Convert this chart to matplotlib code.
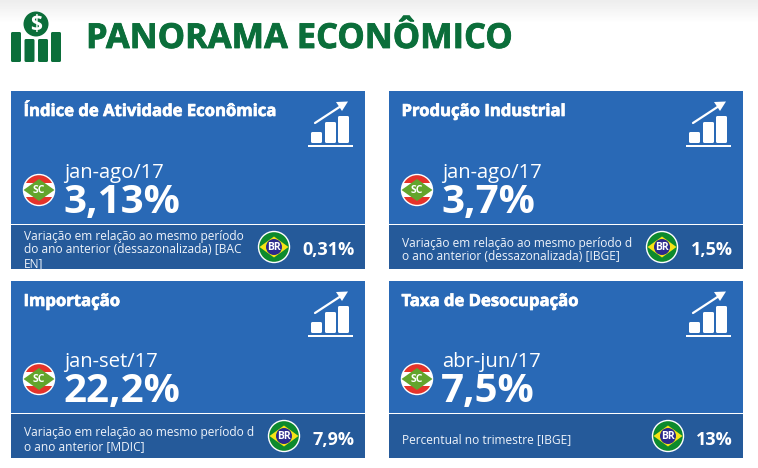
"""Panorama economico: four indicator cards, SC against BR."""
import numpy as np
import matplotlib
matplotlib.use("Agg")
import matplotlib.pyplot as plt
import matplotlib.patheffects as pe
from matplotlib.patches import Circle, FancyBboxPatch, Polygon, Rectangle

plt.rcParams['font.family'] = ['Open Sans', 'DejaVu Sans']

# chart content
header = "PANORAMA ECONÔMICO"
titles = ["Índice de Atividade Econômica", "Produção Industrial",
          "Importação", "Taxa de Desocupação"]
periods = ["jan-ago/17", "jan-ago/17", "jan-set/17", "abr-jun/17"]
sc_values = ["3,13%", "3,7%", "22,2%", "7,5%"]
br_values = ["0,31%", "1,5%", "7,9%", "13%"]
notes = [
    ["Variação em relação ao mesmo período", "do ano anterior (dessazonalizada) [BAC", "EN]"],
    ["Variação em relação ao mesmo período d", "o ano anterior (dessazonalizada) [IBGE]"],
    ["Variação em relação ao mesmo período d", "o ano anterior [MDIC]"],
    ["Percentual no trimestre [IBGE]"],
]

# layout, in pixels
card_x = [11, 389, 11, 389]
card_y = [91, 91, 281, 281]
body_h = [133, 133, 132, 132]
band_h = [44, 44, 44, 44]
br_badge_x = [263, 273, 273, 279]
note_baselines = [[149, 162, 176], [156, 169], [155, 169], [162]]

GREEN = "#0b6e3a"
CARD = "#2969b6"
BAND = "#255a9a"
NARROW = ['Liberation Sans Narrow', 'Open Sans']


def rounded(ax, x, y, w, h, color, r=1.5):
    ax.add_patch(FancyBboxPatch((x + r, y + r), w - 2 * r, h - 2 * r,
                                boxstyle=f"round,pad={r},rounding_size={r}",
                                fc=color, ec="none"))


def draw_logo(ax):
    for x, top in zip([11, 24.5, 38, 51], [32, 39, 39, 32]):
        rounded(ax, x, top, 10, 62 - top, GREEN)
    ax.add_patch(Circle((36, 24), 12.5, fc=GREEN, ec="none"))
    ax.text(36, 24.5, "$", color="white", fontsize=15, fontweight="bold",
            ha="center", va="center")


def draw_trend_icon(ax, x0, y0):
    ax.add_patch(Rectangle((x0 + 296.5, y0 + 53.5), 45, 2.2, fc="white", ec="none"))
    for x, top in zip([300, 314, 327], [41, 31, 25]):
        rounded(ax, x0 + x, y0 + top, 11, 52 - top, "white")
    ax.plot([x0 + 304, x0 + 330], [y0 + 32, y0 + 15], color="white", lw=1.6,
            solid_capstyle="round")
    ax.add_patch(Polygon([(x0 + 337, y0 + 10.5), (x0 + 325, y0 + 11), (x0 + 331, y0 + 20)],
                         fc="white", ec="none"))


def draw_sc_badge(ax, cx, cy):
    outer = Circle((cx, cy), 15.5, fc="#e5332a", ec="white", lw=1)
    ax.add_patch(outer)
    band = Rectangle((cx - 16, cy - 7), 32, 14, fc="white", ec="none")
    ax.add_patch(band)
    band.set_clip_path(outer)
    diamond = Polygon([(cx - 15.5, cy), (cx, cy - 11), (cx + 15.5, cy), (cx, cy + 11)],
                      fc="#62a52c", ec="none")
    ax.add_patch(diamond)
    diamond.set_clip_path(outer)
    ax.text(cx, cy + 0.3, "SC", color="white", fontsize=7.5, fontweight="bold",
            ha="center", va="center", family=NARROW)


def draw_br_badge(ax, cx, cy):
    ax.add_patch(Circle((cx, cy), 15.5, fc="#0d8a2d", ec="white", lw=1))
    ax.add_patch(Polygon([(cx - 14.5, cy), (cx, cy - 10.5), (cx + 14.5, cy), (cx, cy + 10.5)],
                         fc="#f6e316", ec="none"))
    ax.add_patch(Circle((cx, cy), 8, fc="#2b2a8c", ec="none"))
    ax.text(cx, cy + 0.3, "BR", color="white", fontsize=7.5, fontweight="bold",
            ha="center", va="center", family=NARROW)


def draw_card(ax, i):
    x0, y0, h = card_x[i], card_y[i], body_h[i]
    ax.add_patch(Rectangle((x0, y0), 354, h, fc=CARD, ec="none"))
    ax.add_patch(Rectangle((x0, y0 + h + 1), 354, band_h[i], fc=BAND, ec="none"))

    ax.text(x0 + 12.5, y0 + 25, titles[i], color="white", fontsize=12,
            fontweight="bold", va="baseline",
            path_effects=[pe.withStroke(linewidth=0.5, foreground="white")])
    draw_trend_icon(ax, x0, y0)
    draw_sc_badge(ax, x0 + 28, y0 + h - 34)
    ax.text(x0 + 53, y0 + h - 46, periods[i], color="white", fontsize=14.6, va="baseline")
    ax.text(x0 + 52, y0 + h - 11, sc_values[i], color="white", fontsize=29,
            fontweight="bold", va="baseline")

    for line, base in zip(notes[i], note_baselines[i]):
        ax.text(x0 + 12.5, y0 + base, line, color="#eef3fa", fontsize=8.65, va="baseline")
    draw_br_badge(ax, x0 + br_badge_x[i], y0 + h + 23)
    ax.text(x0 + 343.5, y0 + 164, br_values[i], color="white", fontsize=13,
            fontweight="bold", ha="right", va="baseline")


fig = plt.figure(figsize=(7.58, 4.68), dpi=100)
ax = fig.add_axes([0, 0, 1, 1])
ax.set_xlim(0, 758)
ax.set_ylim(468, 0)
ax.axis("off")

# faint grey fade along the top edge of the page
fade = np.linspace(0.93, 1.0, 24).reshape(-1, 1)
ax.imshow(fade, cmap="gray", vmin=0, vmax=1, extent=(0, 758, 24, 0), aspect="auto")
ax.set_xlim(0, 758)
ax.set_ylim(468, 0)

draw_logo(ax)
ax.text(86, 48, header, color=GREEN, fontsize=24.8, fontweight="bold", va="baseline",
        path_effects=[pe.withStroke(linewidth=0.6, foreground=GREEN)])

for i in range(len(titles)):
    draw_card(ax, i)

fig.savefig("out.png", dpi=100)
